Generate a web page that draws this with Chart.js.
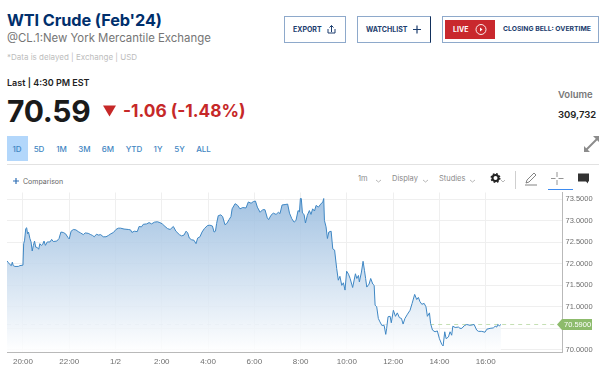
<!DOCTYPE html>
<html>
<head>
<meta charset="utf-8">
<script src="https://cdn.jsdelivr.net/npm/chart.js@4"></script>
<style>
  html, body { margin: 0; padding: 0; background: #fff; overflow: hidden; }
  body { width: 613px; height: 379px; position: relative; font-family: Inter, "Open Sans", sans-serif; }
  .t { position: absolute; white-space: nowrap; line-height: 1; }
  .box { position: absolute; box-sizing: border-box; border: 1px solid #8ea9cb; }
  .btn { color: #1c3d6e; font-size: 7px; font-weight: 700; }
  .tab { color: #3f86c2; font-size: 8px; font-weight: 500; transform: translateX(-50%); top: 145px; }
  .tool { color: #8a8a8a; font-size: 7.5px; top: 175px; }
  svg { position: absolute; overflow: visible; }
  #wrap { position: absolute; left: 0; top: 185px; width: 613px; height: 194px; }
</style>
</head>
<body>
<div class="t" style="left:7px;top:12px;font-size:16.300px;font-weight:700;color:#002f6c;letter-spacing:-.1px">WTI Crude (Feb'24)</div>
<div class="t" style="left:7px;top:33px;font-size:11.400px;color:#757575">@CL.1:New York Mercantile Exchange</div>
<div class="t" style="left:7px;top:53px;font-size:8px;color:#bdbdbd">*Data is delayed | Exchange | USD</div>
<div class="t" style="left:7px;top:78px;font-size:9px;font-weight:600;color:#222">Last | 4:30 PM EST</div>
<div class="t" style="left:7px;top:96px;font-size:30px;font-weight:700;color:#1a1a1a;letter-spacing:-.3px">70.59</div>
<svg style="left:0;top:0" width="1" height="1"><path d="M103 105.500H116L109.500 116.500Z" fill="#c62828"/></svg>
<div class="t" style="left:123px;top:102px;font-size:17.300px;font-weight:700;color:#c62828">-1.06 (-1.48%)</div>

<div class="box" style="left:284px;top:16px;width:62px;height:27px"></div>
<div class="t btn" style="left:293px;top:26px">EXPORT</div>
<svg style="left:0;top:0" width="1" height="1"><path d="M328 29v4h7v-4M331.500 32v-6.500M329.500 27.500l2-2 2 2" fill="none" stroke="#1c3d6e" stroke-width="1"/></svg>
<div class="box" style="left:357px;top:16px;width:74px;height:27px;border-right-color:#12305c"></div>
<div class="t btn" style="left:366px;top:26px">WATCHLIST</div>
<svg style="left:0;top:0" width="1" height="1"><path d="M413 29.500h8M417 25.500v8" fill="none" stroke="#1c3d6e" stroke-width="1.200"/></svg>
<div class="box" style="left:442px;top:16px;width:157px;height:27px"></div>
<div style="position:absolute;left:445px;top:20px;width:50px;height:19px;background:#c9282d"></div>
<div class="t" style="left:453px;top:26px;font-size:7px;font-weight:700;color:#fff">LIVE</div>
<svg style="left:0;top:0" width="1" height="1"><circle cx="481" cy="29.500" r="5" fill="none" stroke="#fff" stroke-width=".9"/><path d="M480 27.500l2.500 2-2.500 2Z" fill="#fff"/></svg>
<div class="t btn" style="left:503px;top:26px;font-size:6.800px">CLOSING BELL: OVERTIME</div>

<div class="t" style="left:558px;top:90px;font-size:9.500px;font-weight:600;color:#777">Volume</div>
<div class="t" style="left:558px;top:110px;font-size:9.500px;font-weight:600;color:#222">309,732</div>
<svg style="left:0;top:0" width="1" height="1"><path d="M585 151l13-13" stroke="#8c8c8c" stroke-width="2"/><path d="M584 152v-6l6 6ZM599 136v6l-6-6Z" fill="#8c8c8c"/></svg>

<div style="position:absolute;left:7px;top:136px;width:21px;height:25px;background:#b3d7fb"></div>
<div class="t tab" style="left:17px">1D</div>
<div class="t tab" style="left:39px">5D</div>
<div class="t tab" style="left:61.500px">1M</div>
<div class="t tab" style="left:84.500px">3M</div>
<div class="t tab" style="left:108px">6M</div>
<div class="t tab" style="left:134px">YTD</div>
<div class="t tab" style="left:158px">1Y</div>
<div class="t tab" style="left:179.500px">5Y</div>
<div class="t tab" style="left:203.500px">ALL</div>
<div style="position:absolute;left:7px;top:164px;width:592px;height:1px;background:#e2e2e2"></div>

<svg style="left:0;top:0" width="1" height="1"><path d="M13 181h6M16 178v6" stroke="#2f6fb5" stroke-width="1.200"/></svg>
<div class="t" style="left:23px;top:178px;font-size:7px;color:#666">Comparison</div>
<div class="t tool" style="left:358px">1m</div>
<div class="t tool" style="left:392px">Display</div>
<div class="t tool" style="left:439px">Studies</div>
<svg style="left:0;top:0" width="1" height="1">
  <path d="M376 180l2.500 2 2.500-2M423 180l2.500 2 2.500-2M470 180l2.500 2 2.500-2M501 180l2 2 2-2" fill="none" stroke="#9a9a9a" stroke-width=".7"/>
  <circle cx="495.500" cy="178" r="3" fill="none" stroke="#222" stroke-width="2"/>
  <circle cx="495.500" cy="178" r="4.300" fill="none" stroke="#222" stroke-width="1.400" stroke-dasharray="1.700 1.700"/>
  <path d="M515.500 171v18" stroke="#cfcfcf"/>
  <path d="M526 183l1-3 7-7 2 2-7 7ZM525 185h12" fill="none" stroke="#666" stroke-width=".8"/>
  <path d="M557 172v5M557 180v5M551 178.500h4.500M558.500 178.500h5" stroke="#666" stroke-width=".7"/>
  <path d="M548 189.500h25" stroke="#3d8bf0" stroke-width="1"/>
  <path d="M578 173.500h11v8h-1v2l-2-2h-8Z" fill="#333"/>
</svg>

<div id="wrap"><canvas id="crudeChart" width="613" height="194"></canvas></div>

<script>
// hours counted from 20:00 on the first session day
const hours = [
  -0.69,-0.63,-0.56,-0.50,-0.46,-0.42,-0.35,-0.20,-0.13,0,0.03,0.07,0.12,0.16,0.20,0.24,0.30,0.35,0.40,0.45,
  0.50,0.55,0.62,0.68,0.73,0.79,0.85,0.91,0.97,1.05,1.17,1.24,1.31,1.46,1.56,1.64,1.74,1.84,1.95,2.00,
  2.08,2.18,2.29,2.39,2.49,2.61,2.69,2.82,2.93,3.01,3.08,3.18,3.26,3.36,3.47,3.59,3.69,3.80,3.91,4.02,
  4.12,4.22,4.37,4.55,4.65,4.71,4.81,4.94,5.02,5.12,5.20,5.35,5.45,5.56,5.68,5.81,5.92,6.02,6.14,6.25,6.36,
  6.50,6.61,6.76,6.86,6.96,7.05,7.12,7.19,7.29,7.39,7.48,7.55,7.65,7.74,7.84,7.97,8.08,8.19,8.26,8.32,
  8.37,8.44,8.55,8.63,8.73,8.81,8.91,8.99,9.04,9.17,9.28,9.38,9.50,9.64,9.74,9.86,9.96,10.05,10.13,10.25,
  10.36,10.46,10.56,10.62,10.72,10.82,10.94,11.04,11.11,11.20,11.33,11.44,11.52,11.62,11.72,11.80,11.89,11.95,11.99,12.03,
  12.08,12.15,12.21,12.29,12.38,12.45,12.52,12.60,12.67,12.77,12.87,12.96,13.00,13.03,13.10,13.16,13.22,13.32,13.39,13.47,13.56,
  13.63,13.70,13.78,13.85,13.92,13.99,14.07,14.14,14.25,14.37,14.43,14.50,14.54,14.63,14.70,14.76,14.81,14.86,14.96,15.03,
  15.12,15.18,15.22,15.29,15.36,15.43,15.51,15.61,15.68,15.72,15.78,15.87,15.92,16.01,16.10,16.18,16.27,16.36,16.43,16.51,
  16.62,16.73,16.82,16.93,17.02,17.09,17.16,17.24,17.34,17.42,17.48,17.57,17.62,17.70,17.81,17.91,18.00,18.10,18.16,18.23,
  18.29,18.39,18.46,18.53,18.58,18.68,18.82,18.89,18.97,19.07,19.18,19.33,19.50,19.61,19.69,19.83,19.97,20.05,20.19,20.33,
  20.41,20.48,20.52,20.59,20.66
];
const prices = [
  72.07,72.03,71.98,71.96,72.04,71.96,71.94,71.94,71.96,71.97,72.47,72.55,72.82,72.84,72.70,72.74,72.59,72.51,72.30,72.43,
  72.53,72.39,72.38,72.34,72.47,72.43,72.45,72.53,72.43,72.51,72.51,72.57,72.52,72.53,72.59,72.74,72.73,72.70,72.61,72.58,
  72.76,72.80,72.79,72.75,72.72,72.68,72.72,72.71,72.68,72.66,72.63,72.69,72.67,72.68,72.63,72.63,72.66,72.70,72.73,72.80,
  72.83,72.83,72.81,72.80,72.79,72.73,72.76,72.75,72.87,72.86,72.92,72.93,72.96,72.93,72.97,72.98,72.96,72.93,72.87,72.82,72.80,
  72.87,72.76,72.68,72.65,72.67,72.76,72.72,72.60,72.56,72.55,72.47,72.60,72.63,72.74,72.82,72.89,72.90,72.88,72.74,72.76,
  72.94,73.12,73.14,73.10,72.91,72.94,73.03,73.10,73.28,73.40,73.36,73.28,73.31,73.30,73.44,73.41,73.45,73.46,73.32,73.20,
  73.26,73.26,73.07,73.03,73.13,73.18,73.15,73.20,73.17,73.37,73.38,73.39,73.18,73.05,72.97,73.01,73.24,73.21,73.52,73.52,
  73.18,73.15,72.95,73.13,73.24,73.15,73.28,73.23,73.36,73.32,73.39,73.44,73.52,73.01,72.86,72.59,72.74,72.76,72.35,72.32,71.89,
  71.62,71.71,71.50,71.56,71.39,71.83,71.76,71.66,71.45,71.77,71.66,71.73,71.58,71.81,72.06,71.85,71.66,71.46,71.53,71.66,
  71.53,71.50,71.04,71.00,70.73,70.65,70.57,70.57,70.36,70.50,70.77,70.78,70.63,70.92,70.78,70.86,70.75,70.73,70.60,70.73,
  70.83,70.92,71.08,71.29,71.17,71.22,71.12,71.06,71.08,71.00,70.78,70.86,70.61,70.46,70.42,70.44,70.26,70.13,70.09,70.42,
  70.26,70.30,70.42,70.34,70.55,70.52,70.53,70.50,70.50,70.56,70.59,70.57,70.59,70.46,70.43,70.43,70.41,70.48,70.50,70.51,
  70.55,70.53,70.59,70.56,70.59
];
const lastPrice = 70.59;
const xTickHours = [0, 2, 4, 6, 8, 10, 12, 14, 16, 18, 20];
const xTickLabels = ['20:00', '22:00', '1/2', '2:00', '4:00', '6:00', '8:00', '10:00', '12:00', '14:00', '16:00'];
const yGridValues = [70, 70.5, 71, 71.5, 72, 72.5, 73, 73.5];
const yHiddenLabels = [70.5]; // sits behind the price tag
const xRange = [-0.69, 23.32];
const yRange = [69.95, 73.66];
const greenFrom = 17.6;

const ctx = document.getElementById('crudeChart').getContext('2d');

function areaFill(context) {
  const area = context.chart.chartArea;
  if (!area) return 'rgba(160,190,225,.5)';
  const g = context.chart.ctx.createLinearGradient(0, area.top + 8, 0, area.bottom);
  g.addColorStop(0, 'rgba(150,186,222,.85)');
  g.addColorStop(1, 'rgba(255,255,255,.85)');
  return g;
}

// green price tag on the right axis
const priceTag = {
  id: 'priceTag',
  afterDraw(chart) {
    const c = chart.ctx;
    const y = chart.scales.y.getPixelForValue(lastPrice);
    c.save();
    c.fillStyle = '#8dbb6c';
    c.beginPath();
    c.moveTo(557, y);
    c.lineTo(562, y - 5.5);
    c.lineTo(592, y - 5.5);
    c.lineTo(592, y + 5.5);
    c.lineTo(562, y + 5.5);
    c.closePath();
    c.fill();
    c.fillStyle = '#ffffff';
    c.font = '7.5px "Liberation Sans"';
    c.textBaseline = 'middle';
    c.fillText(lastPrice.toFixed(4), 564, y + 0.5);
    c.restore();
  },
};

new Chart(ctx, {
  type: 'line',
  data: {
    datasets: [
      {
        data: hours.map((h, i) => ({ x: h, y: prices[i] })),
        borderColor: '#3f87c4',
        borderWidth: 1,
        pointRadius: 0,
        tension: 0,
        fill: 'start',
        backgroundColor: areaFill,
      },
      {
        data: [{ x: xRange[0], y: lastPrice }, { x: greenFrom, y: lastPrice }],
        borderColor: 'rgba(200,205,210,.55)',
        borderWidth: 1,
        borderDash: [4, 4],
        pointRadius: 0,
      },
      {
        data: [{ x: greenFrom, y: lastPrice }, { x: xRange[1], y: lastPrice }],
        borderColor: '#c5dfb4',
        borderWidth: 1,
        borderDash: [4, 4],
        pointRadius: 0,
      },
    ],
  },
  options: {
    responsive: false,
    animation: false,
    layout: { padding: { left: 7, top: 7, right: 0, bottom: 0 } },
    plugins: { legend: { display: false }, tooltip: { enabled: false } },
    scales: {
      x: {
        type: 'linear',
        min: xRange[0],
        max: xRange[1],
        afterBuildTicks: (axis) => { axis.ticks = xTickHours.map((v) => ({ value: v })); },
        afterFit: (axis) => { axis.height = 27; },
        grid: { color: '#efefef', lineWidth: 1, drawTicks: false },
        border: { color: '#b9b9b9' },
        ticks: {
          autoSkip: false,
          maxRotation: 0,
          padding: 5,
          color: '#6f6f6f',
          font: { family: 'Liberation Sans', size: 8 },
          callback: (v) => xTickLabels[xTickHours.indexOf(v)],
        },
      },
      y: {
        position: 'right',
        min: yRange[0],
        max: yRange[1],
        afterBuildTicks: (axis) => { axis.ticks = yGridValues.map((v) => ({ value: v })); },
        afterFit: (axis) => { axis.width = 50.5; },
        grid: { color: '#efefef', lineWidth: 1, drawTicks: false },
        border: { color: '#b9b9b9' },
        ticks: {
          autoSkip: false,
          padding: 3,
          color: '#6f6f6f',
          font: { family: 'Liberation Sans', size: 7.5 },
          callback: (v) => (yHiddenLabels.includes(v) ? '' : v.toFixed(4)),
        },
      },
    },
  },
  plugins: [priceTag],
});
</script>
</body>
</html>
